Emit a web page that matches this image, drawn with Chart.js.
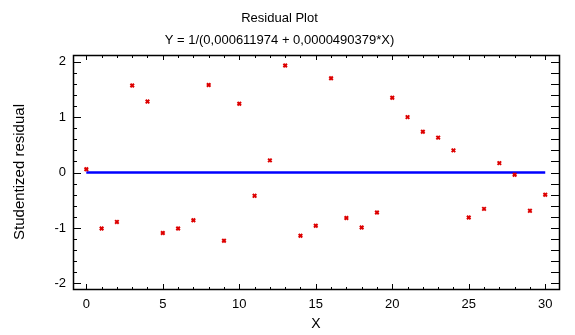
<!DOCTYPE html>
<html>
<head>
<meta charset="utf-8">
<script src="https://cdn.jsdelivr.net/npm/chart.js@4"></script>
<style>
  html, body { margin: 0; padding: 0; background: #fff; }
  #wrap { width: 575px; height: 335px; }
</style>
</head>
<body>
<div id="wrap"><canvas id="chart" width="575" height="335"></canvas></div>
<script>
// residuals
const xValues = [0, 1, 2, 3, 4, 5, 6, 7, 8, 9, 10, 11, 12, 13, 14, 15, 16, 17, 18, 19, 20, 21, 22, 23, 24, 25, 26, 27, 28, 29, 30]
const residuals = [0.06, -1.01, -0.89, 1.57, 1.28, -1.09, -1.01, -0.86, 1.58, -1.23, 1.24, -0.42, 0.22, 1.93, -1.14, -0.96, 1.70, -0.82, -0.99, -0.72, 1.35, 1.00, 0.735, 0.63, 0.40, -0.81, -0.655, 0.17, -0.04, -0.69, -0.40]
const zeroLine = [[0, 0], [30, 0]]
const xTicks = [0, 5, 10, 15, 20, 25, 30]
const yTicks = [-2, -1, 0, 1, 2]
const titleLines = ['Residual Plot', 'Y = 1/(0,000611974 + 0,0000490379*X)']

const FONT = 'Arial, "Liberation Sans", sans-serif'

// frame + inward ticks like the original
const frameTicks = {
    id: 'frameTicks',
    afterDraw(chart){
        let ctx = chart.ctx
        let a = chart.chartArea
        let xs = chart.scales.x
        let ys = chart.scales.y
        ctx.save()
        ctx.strokeStyle = '#000'
        ctx.lineWidth = 1
        ctx.beginPath()
        // x ticks every 1, major every 5
        for(let v = 0; v <= 30; v++){
            let px = Math.round(xs.getPixelForValue(v)) + 0.5
            let major = v % 5 == 0
            ctx.moveTo(px, a.bottom)
            ctx.lineTo(px, a.bottom - (major ? 5 : 2))
            ctx.moveTo(px, a.top)
            ctx.lineTo(px, a.top + (major ? 5 : 3))
        }
        // y ticks every 0.2, major every 1
        for(let i = -10; i <= 10; i++){
            let v = i / 5
            let py = Math.round(ys.getPixelForValue(v)) + 0.5
            let major = i % 5 == 0
            ctx.moveTo(a.left, py)
            ctx.lineTo(a.left + (major ? 8 : 4), py)
            ctx.moveTo(a.right, py)
            ctx.lineTo(a.right - 8, py)
        }
        ctx.stroke()
        ctx.lineWidth = 1.5
        ctx.strokeRect(Math.round(a.left) + 0.5, Math.round(a.top) + 0.5,
            Math.round(a.right - a.left), Math.round(a.bottom - a.top))
        ctx.restore()
    }
}

new Chart(document.getElementById('chart'), {
    type: 'scatter',
    data: {
        datasets: [{
            type: 'line',
            data: zeroLine.map(p => ({x: p[0], y: p[1]})),
            borderColor: '#0000ff',
            borderWidth: 2.5,
            pointRadius: 0,
            order: 2
        }, {
            data: xValues.map((x, i) => ({x: x, y: residuals[i]})),
            pointStyle: 'crossRot',
            pointRadius: 2.5,
            borderColor: '#dd0000',
            backgroundColor: '#dd0000',
            borderWidth: 2,
            order: 1
        }]
    },
    options: {
        responsive: false,
        animation: false,
        events: [],
        layout: { padding: { left: 0, right: 16, top: 0, bottom: 0 } },
        plugins: {
            legend: { display: false },
            tooltip: { enabled: false },
            title: {
                display: true,
                text: titleLines,
                color: '#000',
                font: { family: FONT, size: 13, weight: 'normal', lineHeight: 22 / 13 },
                padding: { top: 7, bottom: 4 }
            }
        },
        scales: {
            x: {
                type: 'linear',
                min: -0.87,
                max: 30.9,
                afterFit: s => { s.height = 46 },
                afterBuildTicks: s => { s.ticks = xTicks.map(v => ({value: v})) },
                grid: { display: false, drawTicks: false },
                border: { display: false },
                ticks: { color: '#000', font: { family: FONT, size: 13 }, padding: 8, maxRotation: 0 },
                title: { display: true, text: 'X', color: '#000', font: { family: FONT, size: 14 }, padding: { top: 0, bottom: 2 } }
            },
            y: {
                type: 'linear',
                min: -2.1,
                max: 2.12,
                afterFit: s => { s.width = 73 },
                afterBuildTicks: s => { s.ticks = yTicks.map(v => ({value: v})) },
                grid: { display: false, drawTicks: false },
                border: { display: false },
                ticks: { color: '#000', font: { family: FONT, size: 13 }, padding: 7 },
                title: { display: true, text: 'Studentized residual', color: '#000', font: { family: FONT, size: 15 }, padding: { top: 11, bottom: 0 } }
            }
        }
    },
    plugins: [frameTicks]
})
</script>
</body>
</html>
